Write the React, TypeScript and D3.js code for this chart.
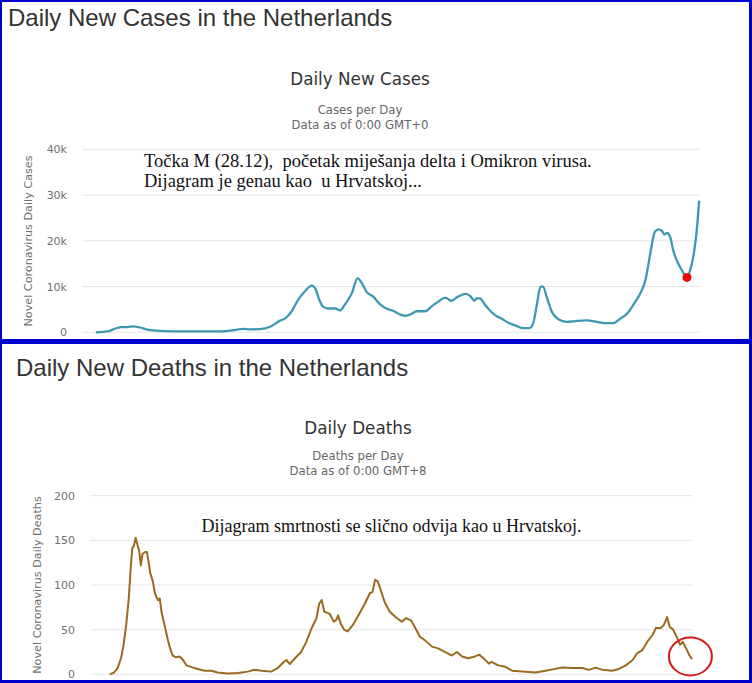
import * as d3 from "d3";

// Daily new cases (7-day average)
const casesDates = [
  "2020-02-15", "2020-03-01", "2020-03-06", "2020-03-15", "2020-03-23", "2020-03-29",
  "2020-04-06", "2020-04-13", "2020-04-25", "2020-05-14", "2020-06-10", "2020-07-07",
  "2020-07-22", "2020-08-03", "2020-08-11", "2020-08-22", "2020-09-03", "2020-09-14",
  "2020-09-20", "2020-09-28", "2020-10-05", "2020-10-13", "2020-10-21", "2020-10-25",
  "2020-10-30", "2020-11-03", "2020-11-09", "2020-11-17", "2020-11-23", "2020-11-28",
  "2020-12-06", "2020-12-13", "2020-12-18", "2020-12-23", "2020-12-31", "2021-01-08",
  "2021-01-15", "2021-01-23", "2021-01-31", "2021-02-06", "2021-02-13", "2021-02-19",
  "2021-03-01", "2021-03-08", "2021-03-16", "2021-03-24", "2021-03-31", "2021-04-08",
  "2021-04-17", "2021-04-22", "2021-04-27", "2021-04-29", "2021-05-03", "2021-05-09",
  "2021-05-15", "2021-05-20", "2021-05-28", "2021-06-05", "2021-06-14", "2021-06-22",
  "2021-06-29", "2021-07-04", "2021-07-08", "2021-07-12", "2021-07-15", "2021-07-19",
  "2021-07-25", "2021-08-02", "2021-08-11", "2021-08-23", "2021-09-03", "2021-09-15",
  "2021-09-24", "2021-10-04", "2021-10-12", "2021-10-20", "2021-10-27", "2021-11-04",
  "2021-11-10", "2021-11-13", "2021-11-17", "2021-11-21", "2021-11-25", "2021-11-29",
  "2021-12-02", "2021-12-05", "2021-12-09", "2021-12-12", "2021-12-16", "2021-12-22",
  "2021-12-28", "2021-12-31", "2022-01-05", "2022-01-09", "2022-01-11",
];
const casesValues = [
  0, 250, 650, 1150, 1150, 1300,
  1050, 650, 350, 200, 200, 200,
  450, 750, 650, 700, 1200, 2500,
  3000, 4600, 7000, 8900, 10200, 9600,
  7000, 5600, 5200, 5200, 4800, 6000,
  8400, 11800, 10700, 8900, 7800, 6100,
  5200, 4700, 3900, 3600, 4000, 4600,
  4600, 5600, 6700, 7600, 6900, 7800,
  8400, 7900, 6900, 7400, 7400, 6000,
  4700, 3800, 3000, 2100, 1400, 900,
  900, 2300, 6300, 10000, 10000, 7800,
  4500, 2800, 2300, 2500, 2600, 2300,
  2000, 2000, 3000, 4100, 6000, 8500,
  11400, 14300, 18700, 22000, 22500, 22200,
  21400, 21700, 20600, 18000, 15800, 13600,
  12000, 13200, 17300, 23800, 28800,
];

// Daily deaths
const deathsDates = [
  "2020-03-06", "2020-03-11", "2020-03-15", "2020-03-19", "2020-03-22", "2020-03-25",
  "2020-03-28", "2020-03-30", "2020-04-01", "2020-04-03", "2020-04-05", "2020-04-07",
  "2020-04-09", "2020-04-11", "2020-04-13", "2020-04-16", "2020-04-18", "2020-04-20",
  "2020-04-22", "2020-04-25", "2020-04-27", "2020-04-29", "2020-05-01", "2020-05-03",
  "2020-05-05", "2020-05-09", "2020-05-12", "2020-05-15", "2020-05-18", "2020-05-22",
  "2020-05-26", "2020-05-30", "2020-06-03", "2020-06-09", "2020-06-16", "2020-06-24",
  "2020-07-02", "2020-07-09", "2020-07-21", "2020-08-02", "2020-08-13", "2020-08-21",
  "2020-08-29", "2020-09-09", "2020-09-17", "2020-09-23", "2020-09-27", "2020-10-01",
  "2020-10-07", "2020-10-14", "2020-10-20", "2020-10-26", "2020-11-01", "2020-11-04",
  "2020-11-07", "2020-11-10", "2020-11-16", "2020-11-21", "2020-11-24", "2020-11-26",
  "2020-11-29", "2020-12-03", "2020-12-07", "2020-12-13", "2020-12-19", "2020-12-27",
  "2021-01-02", "2021-01-05", "2021-01-08", "2021-01-11", "2021-01-14", "2021-01-19",
  "2021-01-25", "2021-02-02", "2021-02-08", "2021-02-13", "2021-02-19", "2021-02-23",
  "2021-03-01", "2021-03-07", "2021-03-15", "2021-03-22", "2021-03-30", "2021-04-07",
  "2021-04-13", "2021-04-19", "2021-04-26", "2021-05-04", "2021-05-09", "2021-05-15",
  "2021-05-20", "2021-05-23", "2021-05-31", "2021-06-08", "2021-06-16", "2021-06-28",
  "2021-07-13", "2021-07-25", "2021-08-02", "2021-08-13", "2021-08-25", "2021-09-06",
  "2021-09-13", "2021-09-21", "2021-09-29", "2021-10-10", "2021-10-18", "2021-10-26",
  "2021-11-03", "2021-11-08", "2021-11-14", "2021-11-20", "2021-11-26", "2021-11-30",
  "2021-12-05", "2021-12-09", "2021-12-13", "2021-12-16", "2021-12-20", "2021-12-24",
  "2021-12-28", "2021-12-31", "2022-01-04", "2022-01-08", "2022-01-11",
];
const deathsValues = [
  0, 2, 7, 18, 33, 55,
  85, 115, 141, 144, 153, 145,
  139, 122, 135, 137, 137, 126,
  113, 104, 92, 87, 83, 85,
  70, 53, 40, 29, 21, 19,
  20, 16, 10, 8, 6, 4,
  4, 2, 1, 1.5, 3, 5,
  4, 3, 7, 13, 16, 11.5,
  18, 25, 36, 51, 63, 79,
  83, 70, 68, 59, 61, 66,
  57, 50, 48, 55, 65, 79,
  91, 92, 106, 104, 96, 81,
  70, 63, 59, 63, 60, 53,
  42, 38, 31, 29, 25, 21,
  25, 20, 18, 20, 22, 17,
  12, 14, 10, 8.5, 4, 3,
  2, 4, 5.5, 7.5, 7, 7,
  5, 7.5, 5, 4, 6, 10,
  16, 23.5, 27, 36.5, 44, 52,
  51.5, 55, 64, 53, 50, 42,
  33, 36.5, 29, 21, 17,
];

const casesTicks = [0, 10000, 20000, 30000, 40000];
const deathsTicks = [0, 50, 100, 150, 200];
const markerDate = "2021-12-28";
const markerValue = 12000;
const circledDate = "2022-01-09";
const circledValue = 20;

const parse = d3.timeParse("%Y-%m-%d");
const sans = "'DejaVu Sans', Verdana, sans-serif";
const serif = "'Liberation Serif', 'Times New Roman', serif";
const arial = "'Liberation Sans', Arial, sans-serif";

const casesData = casesDates.map((d, i) => ({ date: parse(d) as Date, value: casesValues[i] }));
const deathsData = deathsDates.map((d, i) => ({ date: parse(d) as Date, value: deathsValues[i] }));

function Panel({ x, y, width, ticks, format, data, color, curve, axisTitle, labelRight }) {
  const line = d3
    .line<{ date: Date; value: number }>()
    .x((d) => x(d.date))
    .y((d) => y(d.value))
    .curve(curve);
  const [x0, x1] = x.range();
  return (
    <g>
      {ticks.map((t) => (
        <g key={t}>
          <line x1={x0} x2={x1} y1={y(t)} y2={y(t)} stroke="#e6e6e6" strokeWidth={1} />
          <text x={labelRight} y={y(t) + 4} textAnchor="end" fontSize={11} fill="#707070" fontFamily={sans}>
            {format(t)}
          </text>
        </g>
      ))}
      <text
        transform={`translate(${axisTitle.x},${axisTitle.y}) rotate(-90)`}
        textAnchor="middle"
        fontSize={11.2}
        fill="#707070"
        fontFamily={sans}
      >
        {axisTitle.text}
      </text>
      <path d={line(data) ?? ""} fill="none" stroke={color} strokeWidth={width} strokeLinejoin="round" />
    </g>
  );
}

export default function App() {
  const xCases = d3
    .scaleTime()
    .domain([parse("2020-01-30") as Date, parse("2022-01-12") as Date])
    .range([82, 700]);
  const yCases = d3.scaleLinear().domain([0, 40000]).range([332.3, 149.3]);

  const xDeaths = d3
    .scaleTime()
    .domain([parse("2020-02-12") as Date, parse("2022-01-12") as Date])
    .range([90, 693]);
  const yDeaths = d3.scaleLinear().domain([0, 200]).range([674.3, 495.7]);

  const kFormat = (v: number) => (v === 0 ? "0" : `${v / 1000}k`);

  return (
    <div style={{ position: "absolute", left: 0, top: 0 }}>
      <svg width={752} height={683} style={{ display: "block" }}>
        <rect x={0} y={0} width={752} height={683} fill="#0000cc" />
        <rect x={2} y={2} width={747} height={337} fill="#fff" />
        <rect x={2} y={344} width={747} height={336} fill="#fff" />

        {/* top panel */}
        <text x={8} y={26} fontSize={24} fill="#333" fontFamily={arial}>
          Daily New Cases in the Netherlands
        </text>
        <text x={360} y={85} textAnchor="middle" fontSize={16.8} fill="#333" fontFamily={sans}>
          Daily New Cases
        </text>
        <text x={360} y={114} textAnchor="middle" fontSize={11.7} fill="#666" fontFamily={sans}>
          Cases per Day
        </text>
        <text x={360} y={129} textAnchor="middle" fontSize={11.7} fill="#666" fontFamily={sans}>
          Data as of 0:00 GMT+0
        </text>
        <Panel
          x={xCases}
          y={yCases}
          width={2.3}
          ticks={casesTicks}
          format={kFormat}
          data={casesData}
          color="#3f98b2"
          curve={d3.curveMonotoneX}
          labelRight={67}
          axisTitle={{ x: 32, y: 241, text: "Novel Coronavirus Daily Cases" }}
        />
        <circle cx={xCases(parse(markerDate) as Date)} cy={yCases(markerValue)} r={4.5} fill="#ee0a0a" />
        <text x={144} y={167} fontSize={18.5} fill="#111" fontFamily={serif} style={{ whiteSpace: "pre" }}>
          {"Točka M (28.12),  početak miješanja delta i Omikron virusa."}
        </text>
        <text x={144} y={187} fontSize={18.5} fill="#111" fontFamily={serif} style={{ whiteSpace: "pre" }}>
          {"Dijagram je genau kao  u Hrvatskoj..."}
        </text>

        {/* bottom panel */}
        <text x={16} y={376} fontSize={24} fill="#333" fontFamily={arial}>
          Daily New Deaths in the Netherlands
        </text>
        <text x={358} y={434} textAnchor="middle" fontSize={16.8} fill="#333" fontFamily={sans}>
          Daily Deaths
        </text>
        <text x={358} y={460} textAnchor="middle" fontSize={11.7} fill="#666" fontFamily={sans}>
          Deaths per Day
        </text>
        <text x={358} y={475} textAnchor="middle" fontSize={11.7} fill="#666" fontFamily={sans}>
          Data as of 0:00 GMT+8
        </text>
        <Panel
          x={xDeaths}
          y={yDeaths}
          width={2}
          ticks={deathsTicks}
          format={(v: number) => `${v}`}
          data={deathsData}
          color="#9a6a20"
          curve={d3.curveLinear}
          labelRight={75}
          axisTitle={{ x: 41, y: 585, text: "Novel Coronavirus Daily Deaths" }}
        />
        <text x={201.5} y={532} fontSize={18} fill="#111" fontFamily={serif}>
          Dijagram smrtnosti se slično odvija kao u Hrvatskoj.
        </text>
        <ellipse
          cx={xDeaths(parse(circledDate) as Date)}
          cy={yDeaths(circledValue)}
          rx={21.5}
          ry={19}
          fill="none"
          stroke="#d81818"
          strokeWidth={2}
        />
      </svg>
    </div>
  );
}
